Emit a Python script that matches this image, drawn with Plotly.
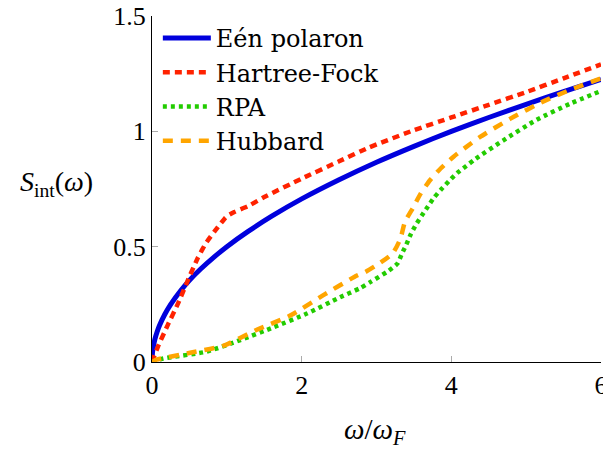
import plotly.graph_objects as go

# ---- data ----
x_polaron = [0, 0.002, 0.005, 0.01, 0.02, 0.04, 0.07, 0.1, 0.17, 0.25, 0.39, 0.5, 0.65, 0.84, 1.0, 1.28, 1.6, 2.0, 2.5, 3.0, 3.5, 4.0, 4.5, 5.0, 5.5, 6.0]
y_polaron = [0, 0.022, 0.035, 0.05, 0.07, 0.10, 0.132, 0.158, 0.206, 0.25, 0.312, 0.354, 0.403, 0.458, 0.50, 0.565, 0.632, 0.707, 0.79, 0.866, 0.935, 1.0, 1.06, 1.117, 1.172, 1.225]

x_hf = [0, 0.08, 0.21, 0.35, 0.48, 0.61, 0.72, 0.88, 0.98, 1.02, 1.1, 1.28, 1.5, 2.0, 2.5, 2.9, 3.5, 4.0, 4.5, 5.0, 5.5, 6.0]
y_hf = [0, 0.067, 0.16, 0.255, 0.355, 0.45, 0.515, 0.585, 0.625, 0.636, 0.65, 0.675, 0.715, 0.795, 0.87, 0.93, 1.005, 1.06, 1.115, 1.17, 1.23, 1.29]

x_rpa = [0, 0.15, 0.73, 1.18, 1.62, 2.07, 2.51, 2.78, 2.91, 3.16, 3.28, 3.34, 3.40, 3.46, 3.53, 3.61, 3.69, 3.77, 3.86, 3.97, 4.08, 4.20, 4.32, 4.69, 5.14, 5.59, 6.0]
y_rpa = [0, 0.015, 0.045, 0.095, 0.15, 0.21, 0.28, 0.32, 0.345, 0.395, 0.427, 0.47, 0.51, 0.555, 0.597, 0.637, 0.676, 0.713, 0.747, 0.785, 0.82, 0.85, 0.88, 0.96, 1.05, 1.12, 1.175]

x_hub = [0, 0.06, 0.51, 0.95, 1.4, 1.84, 2.29, 2.74, 2.85, 3.05, 3.22, 3.32, 3.38, 3.49, 3.59, 3.72, 3.86, 4.03, 4.21, 4.38, 4.79, 5.23, 5.59, 6.0]
y_hub = [0, 0.01, 0.04, 0.07, 0.14, 0.2, 0.29, 0.375, 0.39, 0.43, 0.473, 0.535, 0.607, 0.67, 0.73, 0.79, 0.84, 0.89, 0.935, 0.975, 1.055, 1.13, 1.18, 1.23]

x_ticks = [0, 2, 4, 6]
y_ticks = [0, 0.5, 1, 1.5]
y_ticklabels = ["0", "0.5", "1", "1.5"]

FONT = "Liberation Serif"
LEGEND_FONT = "DejaVu Serif"

fig = go.Figure()
fig.add_trace(go.Scatter(x=x_polaron, y=y_polaron, mode="lines", name="Eén polaron",
                         line=dict(color="#0000dd", width=5, shape="spline", smoothing=0.6)))
fig.add_trace(go.Scatter(x=x_hf, y=y_hf, mode="lines", name="Hartree-Fock",
                         line=dict(color="#ff2200", width=4.5, dash="7px,5px",
                                   shape="spline", smoothing=0.4)))
fig.add_trace(go.Scatter(x=x_rpa, y=y_rpa, mode="lines", name="RPA",
                         line=dict(color="#22cc00", width=4.5, dash="4px,4px",
                                   shape="spline", smoothing=0.6)))
fig.add_trace(go.Scatter(x=x_hub, y=y_hub, mode="lines", name="Hubbard",
                         line=dict(color="#ffa500", width=4.5, dash="10px,8px",
                                   shape="spline", smoothing=0.6)))

fig.update_layout(
    width=603, height=449,
    margin=dict(l=152, r=2, t=16, b=87, autoexpand=False),
    paper_bgcolor="white", plot_bgcolor="white",
    font=dict(family=FONT, size=26, color="black"),
    showlegend=True,
    legend=dict(x=0.013, y=1.0, xanchor="left", yanchor="top",
                bgcolor="rgba(0,0,0,0)", font=dict(family=LEGEND_FONT, size=24), itemwidth=48,
                tracegroupgap=0),
    xaxis=dict(range=[0, 6], tickvals=x_ticks, ticks="inside", ticklen=6,
               tickcolor="#aaaaaa", tickwidth=1, showline=True, linecolor="black",
               linewidth=1.2, showgrid=False, zeroline=False, mirror=False, automargin=False,
               ticklabeloverflow="allow", tickfont=dict(family=FONT, size=26)),
    yaxis=dict(range=[0, 1.5], tickvals=y_ticks, ticktext=y_ticklabels, ticks="inside",
               ticklen=6, tickcolor="#aaaaaa", tickwidth=1, showline=True, automargin=False,
               linecolor="black", linewidth=1.2, showgrid=False, zeroline=False,
               mirror=False, ticklabeloverflow="allow", tickfont=dict(family=FONT, size=26)),
    annotations=[
        dict(text="<i>S</i><sub>int</sub>(<i>ω</i>)", xref="paper", yref="paper",
             x=-0.213, y=0.515, xanchor="center", yanchor="middle", showarrow=False,
             font=dict(family=FONT, size=28)),
        dict(text="<i>ω</i>/<i>ω</i><sub><i>F</i></sub>", xref="paper", yref="paper",
             x=0.497, y=-0.2, xanchor="center", yanchor="middle", showarrow=False,
             font=dict(family=FONT, size=29)),
    ],
)

fig.write_html("out.html")
